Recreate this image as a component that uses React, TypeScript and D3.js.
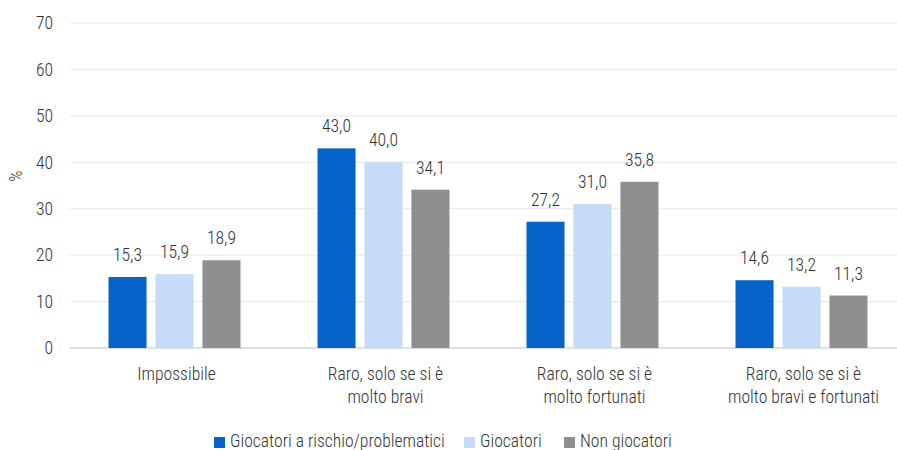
import React, { useEffect, useRef } from "react";
import * as d3 from "d3";

const categories = [
  ["Impossibile"],
  ["Raro, solo se si è", "molto bravi"],
  ["Raro, solo se si è", "molto fortunati"],
  ["Raro, solo se si è", "molto bravi e fortunati"],
];
const seriesNames = ["Giocatori a rischio/problematici", "Giocatori", "Non giocatori"];
const rischio = [15.3, 43.0, 27.2, 14.6];
const giocatori = [15.9, 40.0, 31.0, 13.2];
const nonGiocatori = [18.9, 34.1, 35.8, 11.3];
const yTicks = [0, 10, 20, 30, 40, 50, 60, 70];
const colors = ["#0563c9", "#c6dbf7", "#8f8f8f"];

const FONT = "'Roboto Condensed', 'Liberation Sans Narrow', sans-serif";
const FS = 17.6;
const TXT = "#333333";

export default function App() {
  const ref = useRef<SVGSVGElement>(null);

  useEffect(() => {
    const width = 897;
    const svg = d3.select(ref.current);
    svg.selectAll("*").remove();

    const series = [rischio, giocatori, nonGiocatori];
    const idx = categories.map((_, i) => i);

    const x = d3.scaleBand<number>().domain(idx).range([70, 906]);
    const xInner = d3
      .scaleBand<number>()
      .domain([0, 1, 2])
      .range([0, x.bandwidth()])
      .paddingInner(0.19)
      .paddingOuter(0.82);
    const y = d3.scaleLinear().domain([0, 70]).range([348, 23]);

    // gridlines
    svg
      .append("g")
      .selectAll("line")
      .data(yTicks)
      .join("line")
      .attr("x1", 70)
      .attr("x2", width)
      .attr("y1", (d) => y(d))
      .attr("y2", (d) => y(d))
      .attr("stroke", (d) => (d === 0 ? "#d4d4d4" : "#e8e8e8"))
      .attr("stroke-width", (d) => (d === 0 ? 1.5 : 1));

    // y tick labels
    svg
      .append("g")
      .selectAll("text")
      .data(yTicks)
      .join("text")
      .attr("x", 53)
      .attr("y", (d) => y(d))
      .attr("dy", "0.36em")
      .attr("text-anchor", "end")
      .attr("font-family", FONT)
      .attr("font-weight", 300)
      .attr("font-size", FS)
      .attr("fill", TXT)
      .text((d) => d);

    svg
      .append("text")
      .attr("transform", `translate(22,${y(37)}) rotate(-90)`)
      .attr("text-anchor", "middle")
      .attr("font-family", FONT)
      .attr("font-weight", 300)
      .attr("font-size", FS)
      .attr("fill", TXT)
      .text("%");

    // bars
    series.forEach((vals, s) => {
      const g = svg.append("g");
      g.selectAll("rect")
        .data(vals)
        .join("rect")
        .attr("x", (_, i) => x(i)! + xInner(s)!)
        .attr("y", (d) => y(d))
        .attr("width", xInner.bandwidth())
        .attr("height", (d) => y(0) - y(d))
        .attr("fill", colors[s]);
      g.selectAll("text")
        .data(vals)
        .join("text")
        .attr("x", (_, i) => x(i)! + xInner(s)! + xInner.bandwidth() / 2)
        .attr("y", (d) => y(d) - 16)
        .attr("text-anchor", "middle")
        .attr("font-family", FONT)
        .attr("font-weight", 300)
        .attr("font-size", FS)
        .attr("fill", TXT)
        .text((d) => d3.format(".1f")(d).replace(".", ","));
    });

    // category labels
    const cat = svg
      .append("g")
      .selectAll("text")
      .data(categories)
      .join("text")
      .attr("x", (_, i) => x(i)! + x.bandwidth() / 2 + 2)
      .attr("y", 380)
      .attr("text-anchor", "middle")
      .attr("font-family", FONT)
      .attr("font-weight", 300)
      .attr("font-size", FS)
      .attr("fill", TXT);
    cat
      .selectAll("tspan")
      .data((d) => d)
      .join("tspan")
      .attr("x", function () {
        return (this.parentNode as SVGTextElement).getAttribute("x");
      })
      .attr("dy", (_, j) => (j === 0 ? 0 : 22.5))
      .text((d) => d);

    // legend
    const legendX = [214, 464, 564];
    const lg = svg
      .append("g")
      .selectAll("g")
      .data(seriesNames)
      .join("g")
      .attr("transform", (_, i) => `translate(${legendX[i]},437)`);
    lg.append("rect").attr("width", 11).attr("height", 11).attr("fill", (_, i) => colors[i]);
    lg.append("text")
      .attr("x", 16)
      .attr("y", 10)
      .attr("font-family", FONT)
      .attr("font-weight", 300)
      .attr("font-size", FS)
      .attr("fill", TXT)
      .text((d) => d);
  }, []);

  return (
    <svg
      ref={ref}
      width={897}
      height={450}
      style={{ position: "absolute", left: 0, top: 0, background: "#fff" }}
    />
  );
}
